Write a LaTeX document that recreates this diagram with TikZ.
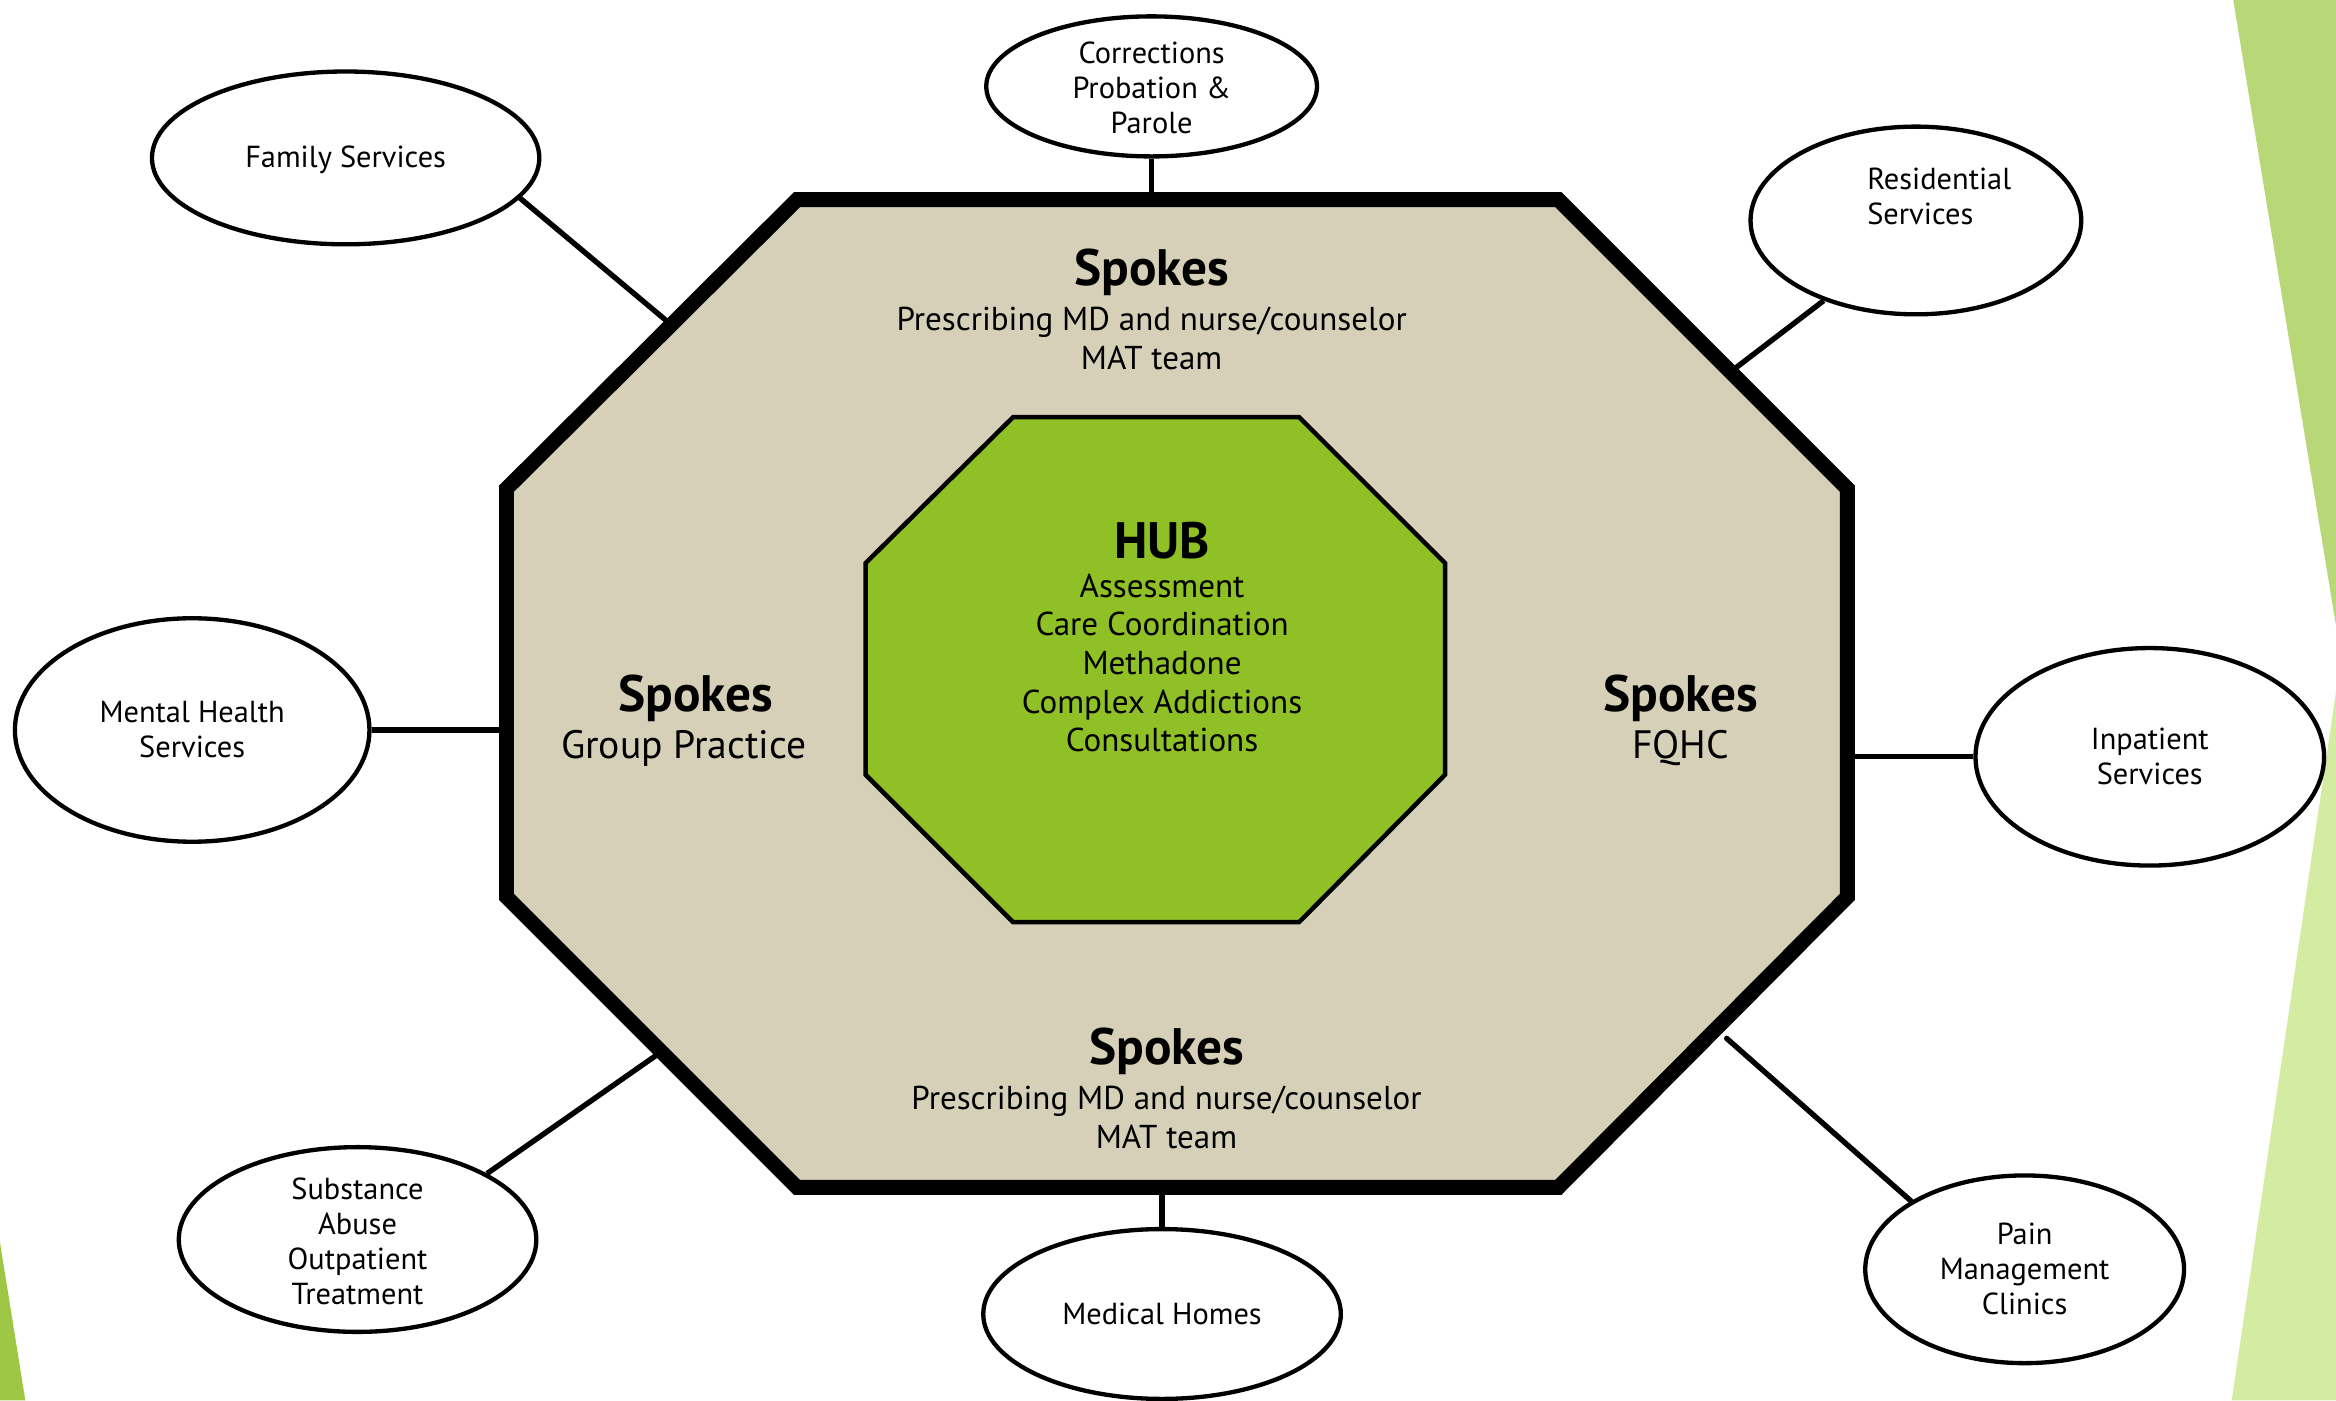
\documentclass[tikz,border=0pt]{standalone}
\usepackage{fontspec}
\setmainfont{PT Sans}
\usetikzlibrary{shapes.geometric}
\definecolor{tan}{HTML}{D6D0B8}
\definecolor{hubgreen}{HTML}{8FC026}
\definecolor{decoA}{HTML}{B8D878}
\definecolor{decoB}{HTML}{D4EBA2}
\definecolor{decoC}{HTML}{9DC745}
\begin{document}
\begin{tikzpicture}[x=0.5pt,y=-0.5pt,
  oval/.style={draw=black,line width=1.45pt,fill=white,ellipse,inner sep=0pt},
  ovaltext/.style={font=\fontsize{10.2pt}{11.75pt}\selectfont,align=center,inner sep=0pt},
  spoketitle/.style={font=\fontsize{17.2pt}{19pt}\selectfont\bfseries,inner sep=0pt},
  spokesub/.style={font=\fontsize{11.1pt}{13pt}\selectfont,align=center,inner sep=0pt},
  spokebig/.style={font=\fontsize{13.3pt}{15pt}\selectfont,inner sep=0pt},
  link/.style={line width=1.8pt,draw=black}]
\useasboundingbox (0,0) rectangle (1568,940);
\fill[white] (0,0) rectangle (1568,940);
% decorations
\fill[decoA] (1499,0) -- (1568,0) -- (1568,420) -- cycle;
\fill[decoB] (1568,464) -- (1568,940) -- (1498,940) -- cycle;
\fill[decoC] (0,834) -- (17,940) -- (0,940) -- cycle;
% outer octagon
\draw[line width=5pt,fill=tan] (535,134) -- (1046,134) -- (1240,328) -- (1240,602)
  -- (1046,797) -- (535,797) -- (340,602) -- (340,328) -- cycle;
% inner octagon
\draw[line width=1.5pt,fill=hubgreen] (680,280) -- (872,280) -- (970,378) -- (970,520)
  -- (872,619) -- (680,619) -- (581,520) -- (581,378) -- cycle;
% connection points on octagon
\coordinate (pCorr) at (773,138);
\coordinate (pFam) at (447,215);
\coordinate (pRes) at (1165,247);
\coordinate (pMH) at (338,490);
\coordinate (pInp) at (1242,508);
\coordinate (pSub) at (441,708);
\coordinate (pMed) at (780,795);
\coordinate (pPain) at (1159,697);
% ellipses
\node[oval,minimum width=111pt,minimum height=47pt] (corr) at (773,58) {};
\node[oval,minimum width=130pt,minimum height=58pt] (fam) at (232,106) {};
\node[oval,minimum width=111pt,minimum height=63pt] (res) at (1286,148) {};
\node[oval,minimum width=119pt,minimum height=75pt] (mh) at (129,490) {};
\node[oval,minimum width=117pt,minimum height=73pt] (inp) at (1443,508) {};
\node[oval,minimum width=120pt,minimum height=62pt] (sub) at (240,832) {};
\node[oval,minimum width=120pt,minimum height=57pt] (med) at (780,882) {};
\node[oval,minimum width=107pt,minimum height=63pt] (pain) at (1359,852) {};
% connectors
\draw[link] (corr.south) -- (pCorr);
\draw[link] (fam.-13.4) -- (pFam);
\draw[link] (res.-139.5) -- (pRes);
\draw[link] (mh.east) -- (pMH);
\draw[link] (inp.west) -- (pInp);
\draw[link] (sub.27.9) -- (pSub);
\draw[link] (med.north) -- (pMed);
\draw[link,line cap=round] (pain.149.1) -- (pPain);
% ellipse texts
\node[ovaltext] (corrT) at (773,59) {Corrections\\Probation \&\\Parole};
\node[ovaltext] (famT) at (232,107) {Family Services};
\node[ovaltext,align=left,anchor=west] (resT) at (1253,132) {Residential\\Services};
\node[ovaltext] (mhT) at (129,490) {Mental Health\\Services};
\node[ovaltext] (inpT) at (1443,508) {Inpatient\\Services};
\node[ovaltext] (subT) at (240,833) {Substance\\Abuse\\Outpatient\\Treatment};
\node[ovaltext] (medT) at (780,882) {Medical Homes};
\node[ovaltext] (painT) at (1359,852) {Pain\\Management\\Clinics};
% spokes texts
\node[spoketitle] (sTop) at (773,183) {Spokes};
\node[spokesub] (sTopSub) at (773,227) {Prescribing MD and nurse/counselor\\MAT team};
\node[spoketitle] (sBot) at (783,706) {Spokes};
\node[spokesub] (sBotSub) at (783,750) {Prescribing MD and nurse/counselor\\MAT team};
\node[spoketitle] (sLeft) at (467,469) {Spokes};
\node[spokebig] (sLeftSub) at (459,502) {Group Practice};
\node[spoketitle] (sRight) at (1128,469) {Spokes};
\node[spokebig] (sRightSub) at (1128,502) {FQHC};
% hub
\node[spoketitle] (hub) at (780,363) {HUB};
\node[spokesub] (hubSub) at (780,445) {Assessment\\Care Coordination\\Methadone\\Complex Addictions\\Consultations};
\end{tikzpicture}
\end{document}
